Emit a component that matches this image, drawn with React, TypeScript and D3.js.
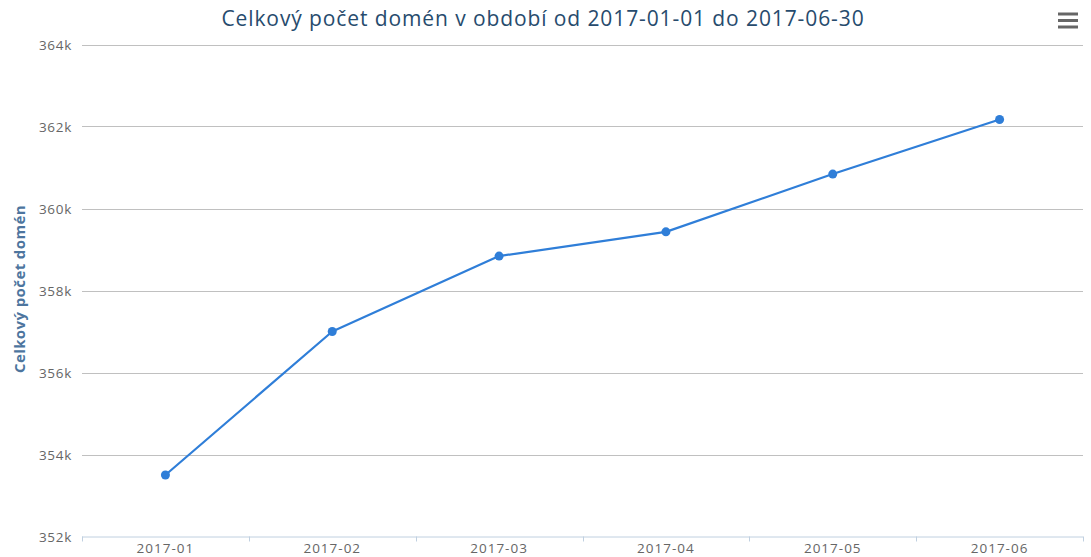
import React from "react";
import * as d3 from "d3";

const categories = ["2017-01", "2017-02", "2017-03", "2017-04", "2017-05", "2017-06"];
const values = [353500, 357000, 358840, 359430, 360840, 362170];
const yTicks = [352000, 354000, 356000, 358000, 360000, 362000, 364000];
const title = "Celkový počet domén v období od 2017-01-01 do 2017-06-30";
const yTitle = "Celkový počet domén";

const W = 1091;
const H = 557;
const left = 82;
const right = 1083;
const top = 44.5;
const bottom = 536.5;
const font = "'Open Sans', 'DejaVu Sans', sans-serif";

export default function App() {
  const x = d3.scaleBand<string>().domain(categories).range([left, right]);
  const y = d3.scaleLinear().domain([352000, 364000]).range([bottom, top]);
  const line = d3
    .line<number>()
    .x((_, i) => (x(categories[i]) as number) + x.bandwidth() / 2)
    .y((d) => y(d));
  const boundaries = [...categories.map((c) => x(c) as number), right];

  return (
    <svg width={W} height={H} style={{ position: "absolute", left: 0, top: 0, background: "#fff" }}>
      <text x={543} y={26} textAnchor="middle" fontFamily={font} fontSize={21} letterSpacing={0.9} fill="#274b6d">
        {title}
      </text>
      <g stroke="#666" strokeWidth={3}>
        {[14, 20.5, 27].map((yy) => (
          <line key={yy} x1={1058} x2={1078} y1={yy} y2={yy} />
        ))}
      </g>
      {yTicks.map((t) =>
        t === 352000 ? null : (
          <line key={t} x1={left} x2={right} y1={Math.round(y(t)) + 0.5} y2={Math.round(y(t)) + 0.5} stroke="#C0C0C0" strokeWidth={1} />
        )
      )}
      {yTicks.map((t) => (
        <text key={t} x={72} y={y(t) + 5} textAnchor="end" fontFamily={font} fontSize={13.5} letterSpacing={0.7} fill="#666">
          {d3.format("d")(t / 1000) + "k"}
        </text>
      ))}
      <text
        transform={`translate(25,${289}) rotate(-90)`}
        textAnchor="middle"
        fontFamily={font}
        fontSize={15}
        letterSpacing={0.4}
        fontWeight="bold"
        fill="#4d759e"
      >
        {yTitle}
      </text>
      <line x1={left} x2={right} y1={bottom + 0.5} y2={bottom + 0.5} stroke="#C0D0E0" strokeWidth={1} />
      {boundaries.map((b, i) => (
        <line key={i} x1={Math.round(b) + 0.5} x2={Math.round(b) + 0.5} y1={bottom} y2={bottom + 5} stroke="#C0D0E0" strokeWidth={1} />
      ))}
      {categories.map((c) => (
        <text key={c} x={(x(c) as number) + x.bandwidth() / 2} y={553} textAnchor="middle" fontFamily={font} fontSize={13.5} letterSpacing={1} fill="#666">
          {c}
        </text>
      ))}
      <path d={line(values) || ""} fill="none" stroke="#2f7ed8" strokeWidth={2.2} strokeLinejoin="round" />
      {values.map((v, i) => (
        <circle key={i} cx={(x(categories[i]) as number) + x.bandwidth() / 2} cy={y(v)} r={4.5} fill="#2f7ed8" />
      ))}
    </svg>
  );
}
